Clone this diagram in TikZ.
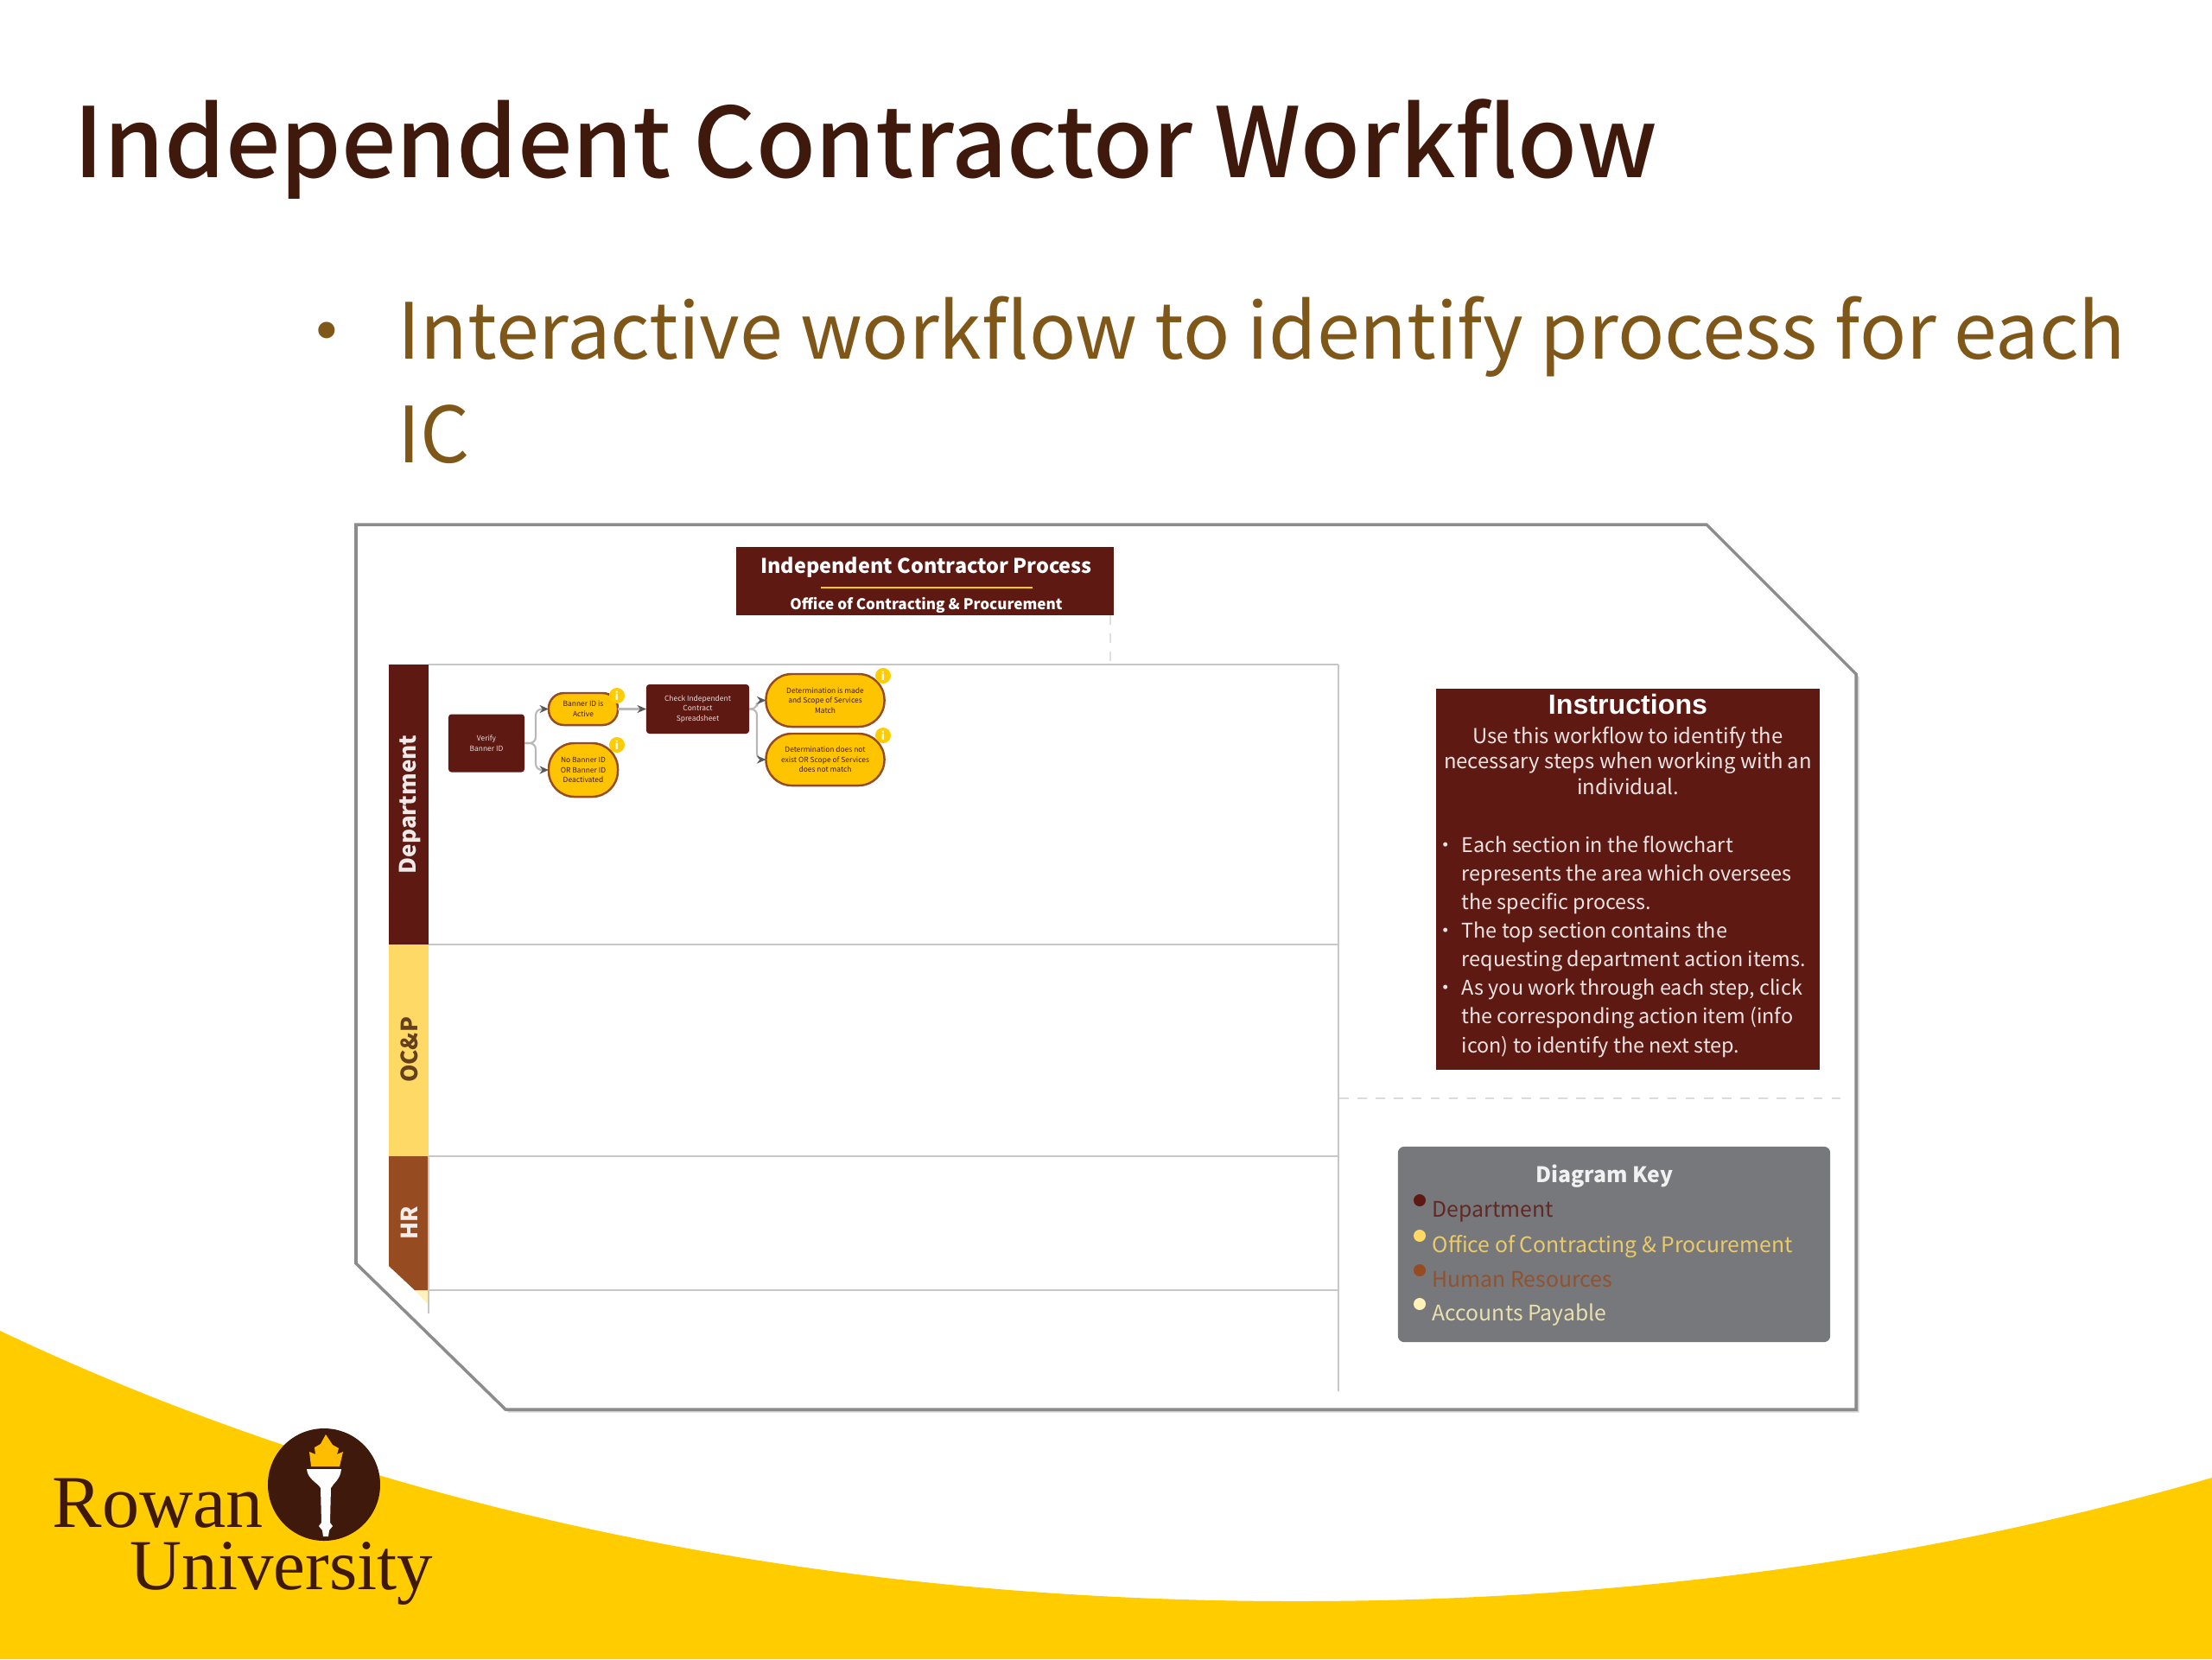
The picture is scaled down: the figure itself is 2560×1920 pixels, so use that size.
\documentclass[tikz,border=0pt]{standalone}
\usepackage{fontspec}
\setmainfont{Noto Sans CJK SC}
\newfontfamily\armfont{Liberation Sans}
\newfontfamily\logofont{Liberation Serif}
\definecolor{rowanBrown}{HTML}{3F1A0C}
\definecolor{rowanGold}{HTML}{FFCC00}
\definecolor{bulletBrown}{HTML}{7F5819}
\definecolor{deptRed}{HTML}{5E1A12}
\definecolor{ocpYellow}{HTML}{FFD966}
\definecolor{hrBrown}{HTML}{964B21}
\definecolor{apCream}{HTML}{FFF2B8}
\definecolor{keyGray}{HTML}{76787C}
\definecolor{linkGray}{HTML}{B8B8B8}
\usetikzlibrary{arrows.meta, shadows}

\begin{document}
\begin{tikzpicture}[
    x=0.01cm, y=-0.01cm,
    lanebar/.style={minimum width=0.46cm, inner sep=0pt, outer sep=0pt},
    lanetext/.style={rotate=90, inner sep=0pt, font=\bfseries\fontsize{7.4}{9}\selectfont},
    laneline/.style={draw=black!22, line width=0.6pt},
    actbox/.style={fill=deptRed, rounded corners=1pt, inner sep=0pt, outer sep=0pt, align=center,
                   text=white!85!deptRed, font=\fontsize{2.4}{3.3}\selectfont},
    pill/.style={fill=rowanGold!90!orange, draw=hrBrown, line width=0.7pt, inner sep=0pt, outer sep=0pt,
                 align=center, text=rowanBrown, font=\fontsize{2.4}{3.3}\selectfont},
    infodot/.style={circle, fill=rowanGold, minimum size=0.18cm, inner sep=0pt,
                    text=white, font=\bfseries\fontsize{3.6}{4}\selectfont},
    link/.style={-{Stealth[length=3pt,width=2.6pt,color=black!65]}, linkGray, line width=0.6pt, rounded corners=2pt},
    keyitem/.style={anchor=base west, inner sep=0pt, font=\fontsize{7.05}{9}\selectfont}
  ]
    \useasboundingbox (0,0) rectangle (2560,1920);
    \fill[white] (0,0) rectangle (2560,1920);

    % yellow band
    \fill[rowanGold] (0,1540) .. controls (400,1730) and (900,1853) .. (1500,1853)
      .. controls (1900,1853) and (2250,1800) .. (2560,1710) -- (2560,1920) -- (0,1920) -- cycle;

    \node[anchor=base west, inner sep=0pt, text=rowanBrown, font={\fontspec{Noto Sans CJK SC Medium}\fontsize{31.9}{40}\selectfont}]
      (title) at (85,205) {Independent Contractor Workflow};
    \node[anchor=base west, inner sep=0pt, text=bulletBrown, font=\fontsize{25.5}{34}\selectfont, align=left]
      (point) at (460,535) {Interactive workflow to identify process for each\\IC};
    \node[anchor=base, inner sep=0pt, text=bulletBrown, font=\fontsize{25.5}{34}\selectfont] (pointdot) at (378,416) {•};

    % pasted flowchart
    \path[fill=white, draw=black!45, line width=1pt, drop shadow={opacity=0.35, shadow xshift=1pt, shadow yshift=-1pt}]
      (412,607) -- (1975,607) -- (2148,780) -- (2148,1631) -- (585,1631) -- (412,1462) -- cycle;

    \node[fill=deptRed, minimum width=4.37cm, minimum height=0.79cm, inner sep=0pt, outer sep=0pt] (header) at (1070.5,672.5) {};
    \node[text=white, font=\bfseries\fontsize{6.66}{9}\selectfont, inner sep=0pt] (headtitle) at (1072,657) {Independent Contractor Process};
    \node[text=white, font=\bfseries\fontsize{4.87}{7}\selectfont, inner sep=0pt] (headsub) at (1072,700) {Office of Contracting \& Procurement};
    \coordinate (rulel) at (950,680);
    \coordinate (ruler) at (1195,680);
    \draw[rowanGold, line width=0.5pt] (rulel) -- (ruler);
    \coordinate (droptop) at (1285,712);
    \coordinate (dropend) at (1285,769);
    \draw[black!12, dashed, line width=0.5pt] (droptop) -- (dropend);

    % lanes
    \node[lanebar, fill=deptRed, minimum height=3.24cm] (dept) at (473,931.5) {};
    \node[lanebar, fill=ocpYellow, minimum height=2.45cm] (ocp) at (473,1215.5) {};
    \fill[apCream] (480,1493) -- (496,1493) -- (496,1510) -- cycle;
    \fill[hrBrown] (450,1338) -- (496,1338) -- (496,1493) -- (480,1493) -- (450,1465) -- cycle;
    \node[lanetext, text=white!90!deptRed] (deptlabel) at (474,931) {Department};
    \node[lanetext, text=rowanBrown!80!ocpYellow] (ocplabel) at (474,1215) {OC\&P};
    \node[lanetext, text=white!90!hrBrown] (hrlabel) at (474,1415) {HR};

    \draw[laneline] (496,769) -- (1549,769);
    \draw[laneline] (496,1093) -- (1549,1093);
    \draw[laneline] (496,1338) -- (1549,1338);
    \draw[laneline] (496,1493) -- (1549,1493);
    \draw[laneline] (496,1338) -- (496,1520);
    \draw[laneline] (1549,769) -- (1549,1610);

    % department steps
    \node[actbox, minimum width=0.88cm, minimum height=0.67cm] (verify) at (563,860) {Verify\\Banner ID};
    \node[pill, rounded corners=5pt, minimum width=0.80cm, minimum height=0.37cm] (active) at (675,820.5) {Banner ID is\\Active};
    \node[pill, rounded corners=8.5pt, minimum width=0.80cm, minimum height=0.62cm] (nobanner) at (675,891) {No Banner ID\\OR Banner ID\\Deactivated};
    \node[actbox, minimum width=1.19cm, minimum height=0.57cm] (check) at (807.5,820.5) {Check Independent\\Contract\\Spreadsheet};
    \node[pill, rounded corners=8.5pt, minimum width=1.37cm, minimum height=0.61cm] (match) at (955,810.5) {Determination is made\\and Scope of Services\\Match};
    \node[pill, rounded corners=8.5pt, minimum width=1.37cm, minimum height=0.60cm] (nomatch) at (955,879) {Determination does not\\exist OR Scope of Services\\does not match};

    \draw[link] (verify.east) -- ++(13,0) |- (active.west);
    \draw[link] (verify.east) -- ++(13,0) |- (nobanner.west);
    \draw[link] (active.east) -- (check.west);
    \draw[link] (check.east) -- ++(9,0) |- (match.west);
    \draw[link] (check.east) -- ++(9,0) |- (nomatch.west);

    \node[infodot] (infoa) at (714,805) {i};
    \node[infodot] (infob) at (714,862) {i};
    \node[infodot] (infoc) at (1022,782) {i};
    \node[infodot] (infod) at (1022,851) {i};

    % instructions
    \node[fill=deptRed, minimum width=4.44cm, minimum height=4.41cm, inner sep=0pt, outer sep=0pt] (instr) at (1884,1017.5) {};
    \node[text=white, font=\armfont\bfseries\fontsize{9.15}{11}\selectfont, inner sep=0pt] (instrtitle) at (1884,815) {Instructions};
    \node[anchor=north, text=white!88!deptRed, align=center, inner sep=0pt, font=\fontsize{6.8}{8.4}\selectfont] (instrtext) at (1884,840)
      {Use this workflow to identify the\\necessary steps when working with an\\individual.};
    \node[anchor=north west, text=white!88!deptRed, align=left, inner sep=0pt, font=\fontsize{6.65}{9.4}\selectfont] (instrlist) at (1691,967)
      {\llap{•\hspace{0.3em}}Each section in the flowchart\\represents the area which oversees\\the specific process.\\
       \llap{•\hspace{0.3em}}The top section contains the\\requesting department action items.\\
       \llap{•\hspace{0.3em}}As you work through each step, click\\the corresponding action item (info\\icon) to identify the next step.};

    \coordinate (splitl) at (1550,1271);
    \coordinate (splitr) at (2130,1271);
    \draw[black!14, dashed, line width=0.5pt] (splitl) -- (splitr);

    % key
    \node[fill=keyGray, rounded corners=2pt, minimum width=5cm, minimum height=2.26cm, inner sep=0pt, outer sep=0pt] (key) at (1868,1440) {};
    \node[text=white!90!keyGray, font=\bfseries\fontsize{7.05}{9}\selectfont, inner sep=0pt] (keytitle) at (1857,1361) {Diagram Key};
    \foreach \name/\col/\ypos/\txt in {dep/deptRed/1408/Department, ocp/ocpYellow/1449/Office of Contracting \& Procurement,
                                       hr/hrBrown/1489/Human Resources, ap/apCream/1528/Accounts Payable}{
      \node[circle, fill=\col, minimum size=0.14cm, inner sep=0pt] (\name dot) at (1643,\ypos-19) {};
      \node[keyitem, text=\col!85!keyGray] (\name item) at (1657,\ypos) {\txt};
    }

    % logo
    \fill[rowanBrown] (375,1718) ellipse [x radius=65, y radius=65];
    \fill[rowanGold!80!orange] (377,1660) -- (385,1672) -- (392,1676) -- (390,1683) -- (397,1680) -- (393,1697)
      -- (360,1697) -- (358,1680) -- (365,1683) -- (364,1675) -- (371,1671) -- cycle;
    \fill[white] (355,1700) -- (395,1700) .. controls (394,1712) and (386,1716) .. (383,1722)
      -- (382,1762) -- (385,1766) -- (381,1771) -- (380,1778) -- (374,1778) -- (373,1771) -- (369,1766) -- (372,1762)
      -- (371,1722) .. controls (368,1716) and (356,1712) .. (355,1700) -- cycle;
    \node[anchor=base west, inner sep=0pt, text=rowanBrown, font=\logofont\fontsize{24.5}{28}\selectfont] (rowan) at (60,1767) {Rowan};
    \node[anchor=base west, inner sep=0pt, text=rowanBrown, font=\logofont\fontsize{23.6}{28}\selectfont] (university) at (150,1839) {University};
  \end{tikzpicture}
\end{document}
